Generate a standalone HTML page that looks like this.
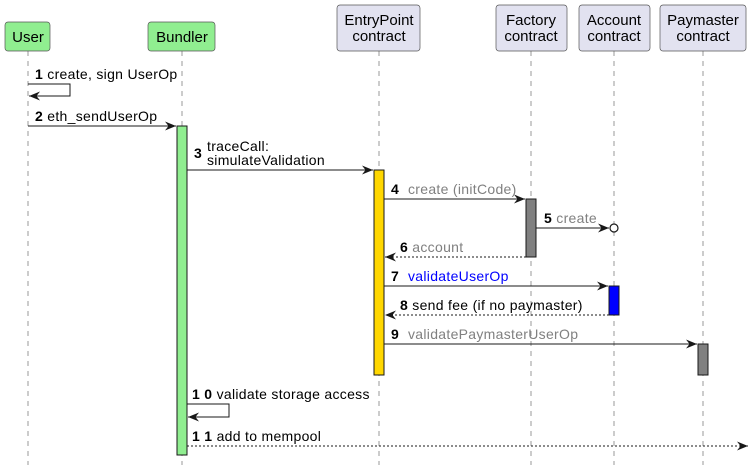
<!DOCTYPE html>
<html><head><meta charset="utf-8"><style>
html,body{margin:0;padding:0;background:#fff;}
svg{display:block;font-family:"Liberation Sans",sans-serif;}
</style></head><body>
<svg width="752" height="471" viewBox="0 0 752 471" xmlns="http://www.w3.org/2000/svg">
<defs>
<marker id="a" markerWidth="12" markerHeight="10" refX="11" refY="5" orient="auto" markerUnits="userSpaceOnUse">
<path d="M0,0.5 L11,5 L0,9.5 L3.5,5 Z" fill="#181818"/></marker>
</defs>
<g stroke="#999" stroke-dasharray="5,5" stroke-width="1">
<line x1="28" y1="51" x2="28" y2="465"/>
<line x1="182" y1="51" x2="182" y2="465"/>
<line x1="379" y1="51" x2="379" y2="465"/>
<line x1="531" y1="51" x2="531" y2="465"/>
<line x1="614" y1="51" x2="614" y2="465"/>
<line x1="703" y1="51" x2="703" y2="465"/>
</g>
<g stroke-width="0.7">
<rect x="5" y="22" width="45" height="29" rx="3" fill="#90EE90" stroke="#555"/>
<rect x="148" y="22" width="67" height="29" rx="3" fill="#90EE90" stroke="#555"/>
<rect x="337" y="5" width="83" height="46" rx="3" fill="#E2E2F0" stroke="#555"/>
<rect x="496" y="5" width="71" height="46" rx="3" fill="#E2E2F0" stroke="#555"/>
<rect x="579" y="5" width="71" height="46" rx="3" fill="#E2E2F0" stroke="#555"/>
<rect x="660" y="5" width="86" height="46" rx="3" fill="#E2E2F0" stroke="#555"/>
</g>
<g font-size="15" fill="#000" text-anchor="middle">
<text x="28" y="42">User</text>
<text x="182" y="42">Bundler</text>
<text x="379" y="25">EntryPoint</text><text x="379" y="41">contract</text>
<text x="531" y="25">Factory</text><text x="531" y="41">contract</text>
<text x="614" y="25">Account</text><text x="614" y="41">contract</text>
<text x="703" y="25">Paymaster</text><text x="703" y="41">contract</text>
</g>
<g stroke="#181818" stroke-width="1">
<rect x="177" y="126" width="10" height="329" fill="#90EE90"/>
<rect x="374" y="170" width="10" height="205" fill="#FFD700"/>
<rect x="526" y="199" width="10" height="58" fill="#808080"/>
<rect x="609" y="286" width="10" height="29" fill="#0000FF"/>
<rect x="698" y="344" width="10" height="31" fill="#808080"/>
</g>
<g stroke="#181818" stroke-width="1" fill="none">
<polyline points="28,84 70,84 70,96 29,96" marker-end="url(#a)"/>
<line x1="28" y1="126" x2="176" y2="126" marker-end="url(#a)"/>
<line x1="187" y1="170" x2="373" y2="170" marker-end="url(#a)"/>
<line x1="384" y1="199" x2="525" y2="199" marker-end="url(#a)"/>
<line x1="536" y1="228" x2="609" y2="228" marker-end="url(#a)"/>
<line x1="526" y1="257" x2="385" y2="257" stroke-dasharray="2,2" marker-end="url(#a)"/>
<line x1="384" y1="286" x2="608" y2="286" marker-end="url(#a)"/>
<line x1="609" y1="315" x2="385" y2="315" stroke-dasharray="2,2" marker-end="url(#a)"/>
<line x1="384" y1="344" x2="697" y2="344" marker-end="url(#a)"/>
<polyline points="187,404 229,404 229,417 188,417" marker-end="url(#a)"/>
<line x1="187" y1="446" x2="748" y2="446" stroke-dasharray="2,2" marker-end="url(#a)"/>
</g>
<circle cx="614" cy="228" r="4" fill="#fff" stroke="#181818" stroke-width="1.2"/>
<g font-size="14" fill="#000" letter-spacing="0.3">
<text x="35" y="79"><tspan font-weight="bold">1</tspan> create, sign UserOp</text>
<text x="35" y="121"><tspan font-weight="bold">2</tspan> eth_sendUserOp</text>
<text x="194" y="158" font-weight="bold">3</text>
<text x="207" y="151">traceCall:</text>
<text x="207" y="165">simulateValidation</text>
<text x="391" y="194"><tspan font-weight="bold">4</tspan><tspan fill="#808080" x="408">create (initCode)</tspan></text>
<text x="544" y="223"><tspan font-weight="bold">5</tspan> <tspan fill="#808080">create</tspan></text>
<text x="400" y="252"><tspan font-weight="bold">6</tspan> <tspan fill="#808080">account</tspan></text>
<text x="391" y="281"><tspan font-weight="bold">7</tspan><tspan fill="#0000FF" x="408">validateUserOp</tspan></text>
<text x="400" y="310"><tspan font-weight="bold">8</tspan> send fee (if no paymaster)</text>
<text x="391" y="339"><tspan font-weight="bold">9</tspan><tspan fill="#808080" x="408">validatePaymasterUserOp</tspan></text>
<text x="192" y="399"><tspan font-weight="bold">1 0</tspan> validate storage access</text>
<text x="192" y="441"><tspan font-weight="bold">1 1</tspan> add to mempool</text>
</g>
</svg>
</body></html>
